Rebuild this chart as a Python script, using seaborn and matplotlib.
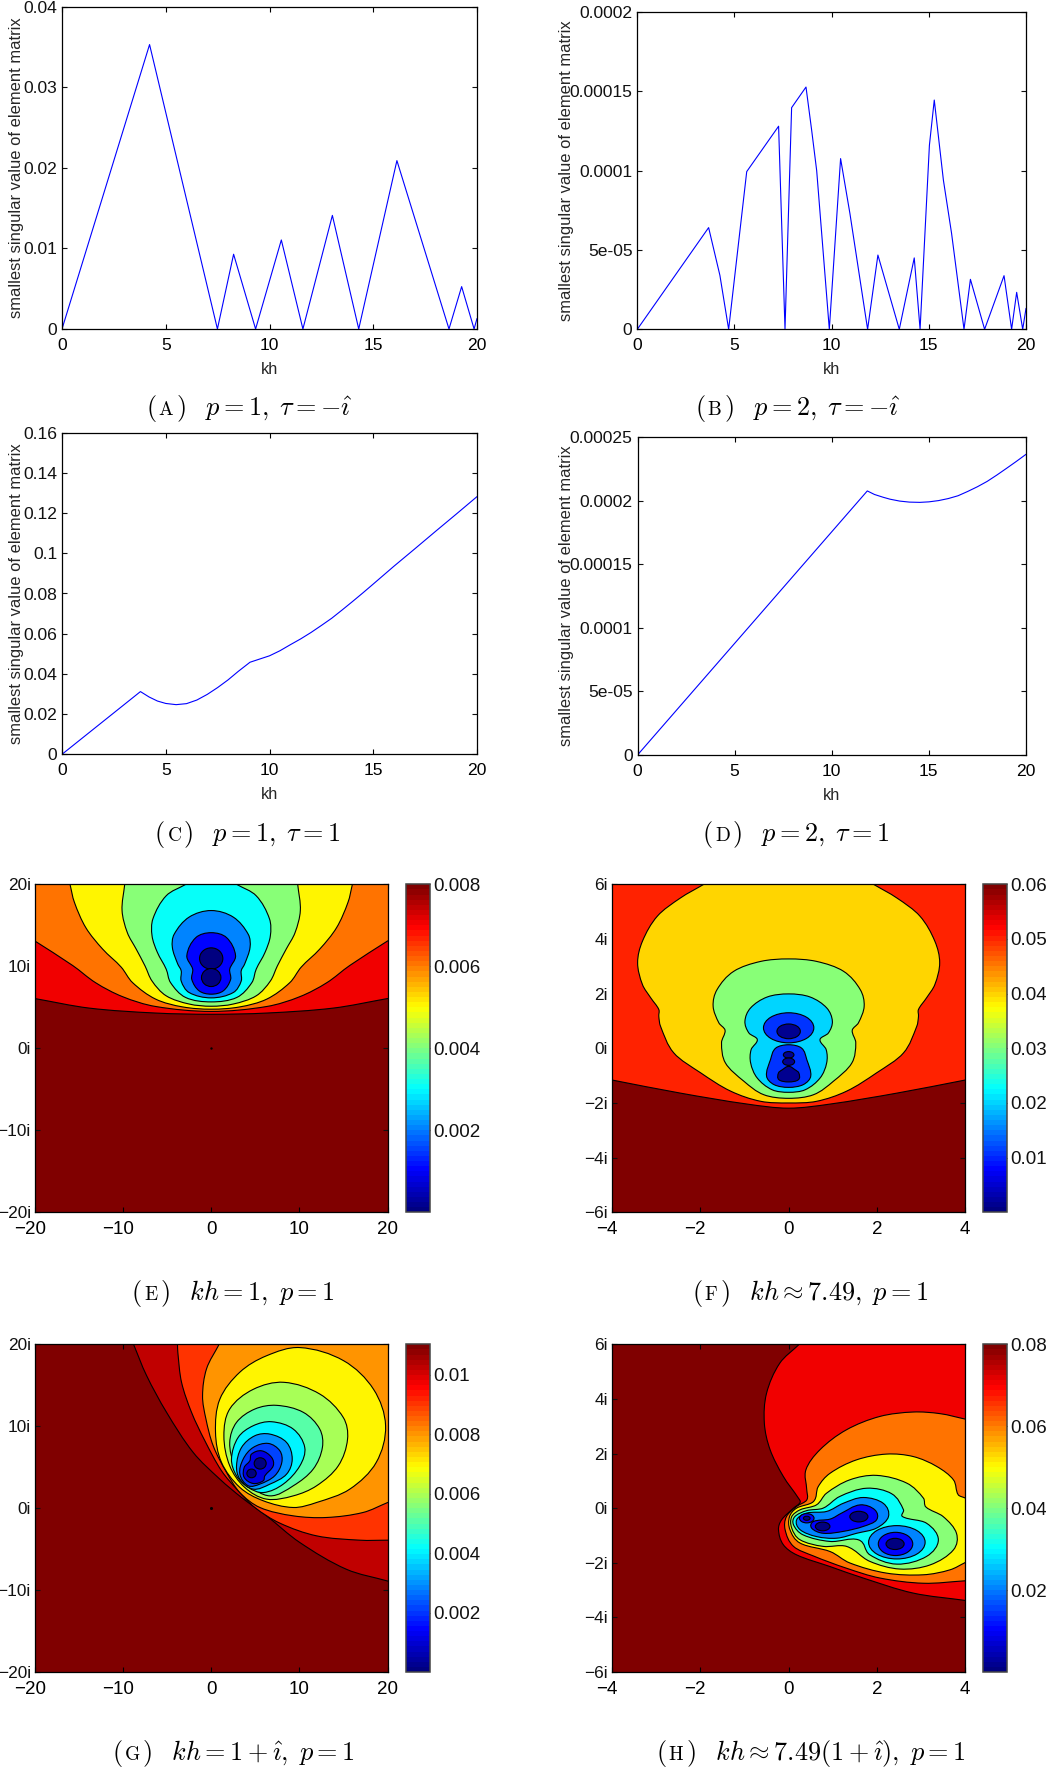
import numpy as np
import matplotlib
matplotlib.use("Agg")
import matplotlib.pyplot as plt
from matplotlib.path import Path
from matplotlib.patches import PathPatch, Ellipse
from matplotlib.colors import Normalize, LinearSegmentedColormap
from matplotlib.cm import ScalarMappable
from matplotlib.transforms import ScaledTranslation
import seaborn as sns

# ---------------- line panels ----------------
A_KH = [0, 4.22, 7.49, 8.27, 9.33, 10.57, 11.61, 13.03, 14.3, 16.14, 18.65, 19.26, 19.86, 20]
A_S = [0, .0353, 0, .00928, 0, .01105, 0, .0141, 0, .0209, 0, .00526, 0, .0013]
B_KH = [0, 3.67, 4.25, 4.7, 5.63, 7.27, 7.6, 7.94, 8.68, 8.97, 9.23, 9.88, 10.46, 10.94, 11.85, 12.38,
        13.48, 14.25, 14.55, 15.03, 15.28, 15.75, 16.17, 16.81, 17.14, 17.87, 18.87, 19.26, 19.52, 19.83, 20]
B_S = [0, 6.41e-5, 3.4e-5, 0, 9.94e-5, 1.28e-4, 0, 1.397e-4, 1.527e-4, 1.256e-4, 1.0e-4, 0, 1.076e-4, 7.3e-5, 0,
       4.68e-5, 0, 4.5e-5, 0, 1.16e-4, 1.445e-4, 9.4e-5, 6.05e-5, 0, 3.15e-5, 0, 3.38e-5, 0, 2.33e-5, 0, 1.32e-5]
C_KH = [0, 3.78, 4.2, 4.6, 5.0, 5.5, 6.0, 6.5, 7.0, 7.5, 8.0, 8.5, 9.06, 9.5, 10, 10.5, 11, 11.5, 12, 12.5, 13, 13.5, 14, 14.5, 14.92, 16, 17, 18, 19, 20]
C_S = [0, .0312, .0285, .0265, .0253, .0247, .0252, .027, .0298, .0332, .037, .0413, .0458, .0473, .0490, .0515,
       .0545, .0574, .0606, .0641, .0677, .0718, .076, .0803, .0840, .0936, .1022, .1109, .1195, .1282]
D_KH = [0, 11.83, 12.2, 12.65, 13, 13.5, 14, 14.54, 15, 15.5, 16, 16.5, 17, 17.5, 18, 18.5, 19, 19.5, 20]
D_S = [0, 2.078e-4, 2.05e-4, 2.028e-4, 2.013e-4, 1.998e-4, 1.99e-4, 1.988e-4, 1.992e-4, 2.002e-4, 2.018e-4, 2.04e-4,
       2.074e-4, 2.111e-4, 2.153e-4, 2.203e-4, 2.256e-4, 2.31e-4, 2.366e-4]

KH_TICKS = [0, 5, 10, 15, 20]
A_YT = [0, .01, .02, .03, .04]; A_YL = ["0", "0.01", "0.02", "0.03", "0.04"]
B_YT = [0, 5e-5, 1e-4, 1.5e-4, 2e-4]; B_YL = ["0", "5e-05", "0.0001", "0.00015", "0.0002"]
C_YT = [0, .02, .04, .06, .08, .1, .12, .14, .16]
C_YL = ["0", "0.02", "0.04", "0.06", "0.08", "0.1", "0.12", "0.14", "0.16"]
D_YT = [0, 5e-5, 1e-4, 1.5e-4, 2e-4, 2.5e-4]; D_YL = ["0", "5e-05", "0.0001", "0.00015", "0.0002", "0.00025"]
YLABEL = "smallest singular value of element matrix"

# ---------------- contour panel E (right halves, mirrored about Re = 0) ----------------
E_C1 = [(20, 6.07), (13.8, 4.9), (6.3, 4.3), (0, 4.15)]
E_C2 = [(20, 13.1), (15.7, 10.1), (13.1, 8.0), (10.05, 6.3), (6.3, 5.1), (0, 4.5)]
E_C3 = [(16, 20), (15.5, 17.8), (14.2, 14.7), (12.3, 12.1), (10.2, 9.9), (8.9, 8.0), (6.3, 6.0), (3.25, 5.05), (0, 4.77)]
E_C4 = [(9.8, 20), (10.1, 16.8), (9.5, 14.1), (8.5, 12.1), (7.5, 10.05), (6.7, 8.2), (5.1, 6.4), (2.5, 5.4), (0, 5.13)]
E_C5 = [(2.87, 20), (5.1, 18.6), (6.6, 15.8), (6.7, 13.7), (6.1, 11.7), (5.1, 9.65), (4.6, 8.0), (2.9, 6.2), (0, 5.66)]
E_C6 = [(0, 16.8), (2.5, 16), (4.2, 13.9), (4.4, 12.3), (3.8, 10.3), (3.4, 9.45), (3.4, 8.2), (2.5, 6.8), (0, 6.15)]
E_C7 = [(0, 14.1), (1.74, 13.5), (2.76, 11.3), (2.1, 9.65), (2.2, 8.4), (1.36, 7), (0, 6.6)]
E_BLOB_CX = [0, 0]; E_BLOB_CY = [10.95, 8.63]; E_BLOB_W = [2.64, 2.2]; E_BLOB_H = [2.6, 2.2]
E_VALUES = [.007, .006, .005, .004, .003, .002, .001]
E_BLOB_VALUE = 0.0

# ---------------- contour panel F ----------------
F_C1 = [(4, -1.16), (2.45, -1.64), (0.94, -2.04), (0, -2.19)]
F_C2 = [(1.92, 6), (2.45, 5.5), (2.97, 4.84), (3.31, 3.92), (3.42, 3.13), (3.31, 2.33), (3.12, 1.84), (2.94, 1.42),
        (2.94, 1.17), (2.9, .8), (2.6, -.17), (1.99, -.9), (1.31, -1.57), (.63, -1.94), (0, -2.0)]
F_C3 = [(0, 3.27), (.63, 3.18), (1.24, 2.82), (1.62, 2.15), (1.71, 1.54), (1.58, .93), (1.44, .66), (1.52, .2),
        (1.43, -.54), (1.01, -1.21), (.56, -1.7), (0, -1.83)]
F_C4 = [(0, 1.99), (.48, 1.88), (.86, 1.48), (.99, .99), (.9, .56), (.71, .32), (.85, -.05), (.86, -.54),
        (.71, -1.09), (.37, -1.52), (0, -1.61)]
F_C5 = [(0, .13), (.29, .01), (.41, -.41), (.5, -1.02), (.33, -1.33), (0, -1.43)]
F_C6 = [(0, -.66), (.14, -.78), (.23, -.9), (.22, -1.15), (0, -1.23)]
F_BLUE_CX = [0]; F_BLUE_CY = [.75]; F_BLUE_W = [1.14]; F_BLUE_H = [1.10]
F_DARK_CX = [0, 0, 0]; F_DARK_CY = [.62, -.24, -.49]; F_DARK_W = [.53, .24, .27]; F_DARK_H = [.54, .24, .27]
F_VALUES = [.0503, .0397, .03, .0203, .0105, .001]

# ---------------- contour panel G ----------------
G_C1 = [(-8.8, 20), (-7.33, 16.2), (-5.06, 11.7), (-2.04, 6.8), (.98, 3.54), (3.44, 1.3), (6.27, -.94), (10.05, -4.2), (15.3, -7.45), (20, -8.9)]
G_C2 = [(-3.82, 20), (-3.78, 19), (-3.36, 15.36), (-2.23, 11.7), (-.72, 8.23), (1.17, 4.56), (3.06, 2.12), (4.95, .08), (7.78, -1.83), (11.94, -3.38), (16.85, -3.91), (20, -3.91)]
G_C3 = [(.9, 20), (-.53, 17), (-.98, 13.7), (-.6, 10.9), (.23, 7.6), (1.74, 4.36), (3.25, 1.91), (5.52, .08), (9.3, -.94), (13.07, -1.14), (17.2, -.53), (20, .69)]
G_C4 = [(10.05, 19.6), (15, 18), (18.4, 14.5), (19.76, 10.06), (18.7, 5.58), (15.7, 2.32), (11.94, .69), (9.3, .08), (5.9, .9), (3.25, 2.53), (1.17, 5.58), (.49, 9.25), (.98, 13.3), (3.25, 16.6), (6.27, 18.6)]
G_C5 = [(8.24, 15.36), (12.3, 13.93), (14.96, 11.08), (15.45, 8.43), (14.4, 5.17), (11.94, 2.73), (9.3, 1.5), (6.27, 1.1), (3.8, 2.53), (2.1, 5.17), (1.44, 8.84), (2.1, 12.1), (4.76, 14.5)]
G_C6 = [(7.4, 12.55), (10.43, 11.7), (12.3, 9.65), (12.6, 7.41), (11.56, 4.77), (9.3, 2.73), (6.65, 1.5), (4.2, 2.93), (2.68, 5.17), (2.1, 8.02), (2.87, 10.47), (4.95, 12.1)]
G_C7 = [(6.84, 10.55), (9.3, 9.65), (10.6, 7.41), (10.05, 5.17), (8.16, 2.93), (5.9, 1.9), (4.2, 2.53), (2.87, 3.95), (2.3, 6), (3.06, 8.64), (4.76, 10.06)]
G_C8 = [(6.65, 9.04), (8.54, 8.02), (9.18, 6), (8.54, 4.15), (6.65, 2.93), (4.76, 2.32), (3.25, 3.54), (2.87, 5.17), (3.44, 7.41), (4.95, 8.84)]
G_C9 = [(6.46, 7.9), (7.78, 7), (8, 5.58), (7.2, 3.95), (5.5, 2.93), (4.2, 2.73), (3.25, 4.15), (3.63, 6), (4.76, 7.41)]
G_C10 = [(5.7, 7), (6.84, 6.2), (7.03, 5.17), (6.08, 3.95), (5.9, 3.34), (4.76, 3.01), (3.74, 3.75), (3.74, 4.97), (4.38, 5.78), (4.57, 6.6)]
G_BLOB_CX = [5.55, 4.57]; G_BLOB_CY = [5.46, 4.24]; G_BLOB_W = [1.36, 1.06]; G_BLOB_H = [1.38, 1.06]
G_VALUES = [.0102, .0091, .0081, .0070, .0060, .0051, .0041, .0031, .0021, .0011]
G_BLOB_VALUE = .0001

# ---------------- contour panel H ----------------
H_C1 = [(.24, 6), (-.2, 5.31), (-.5, 4.21), (-.55, 3.11), (-.42, 2.14), (-.12, 1.16), (.22, .37), (.26, .21), (.11, 0), (-.16, -.43), (-.23, -.79), (-.12, -1.34), (.18, -1.71), (.94, -2.14), (1.69, -2.56), (2.82, -3.11), (4, -3.38)]
H_C2 = [(4, 3.26), (3.43, 3.46), (2.82, 3.52), (2.07, 3.36), (1.31, 2.87), (.71, 2.14), (.39, 1.4), (.41, .67), (.41, .3), (.18, .06), (-.05, -.31), (-.08, -.79), (.11, -1.4), (.56, -1.75), (1.31, -2.2), (2.07, -2.56), (3.05, -2.75), (4, -2.66)]
H_C3 = [(4, .37), (3.84, .49), (3.73, 1.04), (3.35, 1.53), (2.82, 1.89), (2.22, 1.98), (1.54, 1.77), (.94, 1.28), (.67, .79), (.56, .24), (.18, 0), (.02, -.31), (.03, -.79), (.26, -1.28), (.94, -1.59), (1.39, -2.01), (2.22, -2.38), (3.05, -2.44), (3.65, -2.26), (4, -1.99)]
H_C4 = [(1.99, 1.2), (2.67, .92), (3.05, .37), (3.11, .04), (3.5, -.31), (3.8, -.92), (3.73, -1.53), (3.2, -2.08), (2.52, -2.23), (1.84, -1.95), (1.31, -1.4), (.78, -1.4), (.26, -1.16), (.07, -.73), (.07, -.31), (.26, -.06), (.63, .12), (.86, .55), (1.39, 1.04)]
H_C5 = [(1.77, .73), (2.33, .53), (2.6, -.06), (2.58, -.31), (3.12, -.55), (3.39, -1.16), (3.12, -1.77), (2.45, -2.05), (1.84, -1.71), (1.58, -1.16), (.94, -1.22), (.33, -.98), (.11, -.61), (.14, -.31), (.41, -.09), (.78, 0), (1.16, .43)]
H_C6 = [(1.69, .39), (2.14, .18), (2.26, -.31), (1.99, -.73), (1.54, -.92), (1.09, -1.1), (.63, -1.04), (.26, -.79), (.18, -.43), (.41, -.18), (.86, -.12), (1.24, .18)]
H_C7 = [(1.62, .12), (1.95, -.06), (1.99, -.43), (1.69, -.67), (1.24, -.85), (.78, -.92), (.52, -.73), (.56, -.49), (.94, -.4), (1.2, -.18)]
H_AZURE_CX = [2.45]; H_AZURE_CY = [-1.25]; H_AZURE_W = [1.28]; H_AZURE_H = [1.22]
H_BLUE_CX = [2.42, .41]; H_BLUE_CY = [-1.31, -.37]; H_BLUE_W = [.78, .33]; H_BLUE_H = [.85, .34]
H_DARK_CX = [1.59, .77, 2.41, .41]; H_DARK_CY = [-.31, -.67, -1.31, -.37]; H_DARK_W = [.41, .33, .41, .15]; H_DARK_H = [.39, .32, .41, .15]
H_VALUES = [.07, .06, .05, .04, .03, .02, .01]

# ---------------- axis ticks ----------------
EG_XT = [-20, -10, 0, 10, 20]; EG_XL = ["\u221220", "\u221210", "0", "10", "20"]
EG_YT = [-20, -10, 0, 10, 20]; EG_YL = ["\u221220i", "\u221210i", "0i", "10i", "20i"]
FH_XT = [-4, -2, 0, 2, 4]; FH_XL = ["\u22124", "\u22122", "0", "2", "4"]
FH_YT = [-6, -4, -2, 0, 2, 4, 6]; FH_YL = ["\u22126i", "\u22124i", "\u22122i", "0i", "2i", "4i", "6i"]
E_CT = [.002, .004, .006, .008]; E_CL = ["0.002", "0.004", "0.006", "0.008"]
F_CT = [.01, .02, .03, .04, .05, .06]; F_CL = ["0.01", "0.02", "0.03", "0.04", "0.05", "0.06"]
G_CT = [.002, .004, .006, .008, .01]; G_CL = ["0.002", "0.004", "0.006", "0.008", "0.01"]
H_CT = [.02, .04, .06, .08]; H_CL = ["0.02", "0.04", "0.06", "0.08"]
E_CMAX, F_CMAX, G_CMAX, H_CMAX = .008, .06, .01103, .08
CMIN = 0.0

# ---------------- style ----------------
sns.set_theme(style="ticks")
plt.rcParams["font.family"] = ["Liberation Sans", "DejaVu Sans"]
plt.rcParams["mathtext.fontset"] = "cm"
plt.rcParams["axes.edgecolor"] = "black"
plt.rcParams["axes.linewidth"] = 0.9
plt.rcParams["text.color"] = "#111111"
plt.rcParams["xtick.color"] = "black"
plt.rcParams["ytick.color"] = "#111111"

W, H = 1046, 1769
fig = plt.figure(figsize=(W / 100, H / 100), dpi=100, facecolor="white")
# the classic 64-step jet of the original figure
JET = LinearSegmentedColormap("jet64", {
    "red": [(0, 0, 0), (.375, 0, 0), (.625, 1, 1), (.875, 1, 1), (1, .5, .5)],
    "green": [(0, 0, 0), (.125, 0, 0), (.375, 1, 1), (.625, 1, 1), (.875, 0, 0), (1, 0, 0)],
    "blue": [(0, .5, .5), (.125, 1, 1), (.375, 1, 1), (.625, 0, 0), (1, 0, 0)],
}, N=64)


def make_axes(l, r, t, b):
    return fig.add_axes([l / W, 1 - b / H, (r - l) / W, (b - t) / H])


def mirror(half):
    left = [(-x, y) for x, y in half[::-1] if x != 0]
    return list(half) + left


def spline_path(pts, beyond=None):
    P = np.array(pts, float)
    n = len(P)
    closed = beyond is None
    T = np.zeros_like(P)
    for i in range(n):
        if closed:
            d = P[(i + 1) % n] - P[i - 1]
        else:
            d = P[min(i + 1, n - 1)] - P[max(i - 1, 0)]
        T[i] = d / (np.hypot(*d) + 1e-12)
    verts, codes = [P[0]], [Path.MOVETO]
    for i in range(n if closed else n - 1):
        j = (i + 1) % n
        L = np.hypot(*(P[j] - P[i])) / 3
        verts += [P[i] + T[i] * L, P[j] - T[j] * L, P[j]]
        codes += [Path.CURVE4] * 3
    if not closed:
        for q in beyond:
            verts.append(q)
            codes.append(Path.LINETO)
    verts.append(P[0])
    codes.append(Path.CLOSEPOLY)
    return Path(np.array(verts), codes)


def region(ax, pts, value, norm, beyond=None):
    ax.add_patch(PathPatch(spline_path(pts, beyond), facecolor=JET(norm(value)),
                           edgecolor="black", lw=0.8, zorder=2))


def blobs(ax, cx, cy, w, h, value, norm):
    for a, b, c, d in zip(cx, cy, w, h):
        ax.add_patch(Ellipse((a, b), c, d, facecolor=JET(norm(value)),
                             edgecolor="black", lw=0.8, zorder=3))


def line_panel(box, kh, s, yt, yl, ymax, lab_x):
    ax = make_axes(*box)
    sns.lineplot(x=kh, y=s, ax=ax, color=(0, 0, 1), lw=0.8, estimator=None, sort=False, errorbar=None)
    ax.set_xlim(0, 20)
    ax.set_ylim(0, ymax)
    ax.set_xticks(KH_TICKS)
    ax.set_xticklabels([str(k) for k in KH_TICKS])
    ax.set_yticks(yt)
    ax.set_yticklabels(yl)
    ax.tick_params(axis="both", direction="in", top=True, right=True, length=3.5, width=0.8, labelsize=12.6)
    ax.tick_params(axis="x", pad=6.5)
    ax.tick_params(axis="y", pad=3.5)
    for sp in ax.spines.values():
        sp.set_visible(True)
    ax.set_xlabel("kh", fontsize=11.8, va="center")
    ax.xaxis.set_label_coords(0.5, -40 / (box[3] - box[2]))
    ax.set_ylabel(YLABEL, fontsize=11.85, va="center")
    ax.yaxis.set_label_coords((lab_x - box[0]) / (box[1] - box[0]), 0.5)
    return ax


def contour_frame(box, cbox, xlim, ylim, xt, xl, yt, yl, vmax, ct, cl):
    ax = make_axes(*box)
    norm = Normalize(CMIN, vmax)
    ax.set_facecolor(JET(norm(vmax)))
    ax.set_xlim(*xlim)
    ax.set_ylim(*ylim)
    ax.set_xticks(xt)
    ax.set_xticklabels(xl)
    ax.set_yticks(yt)
    ax.set_yticklabels(yl)
    ax.tick_params(axis="both", direction="in", top=True, right=True, length=3.5, width=0.8, labelsize=13.5)
    ax.tick_params(axis="x", pad=6.5)
    ax.tick_params(axis="y", pad=2.8, labelsize=12.4)
    for sp in ax.spines.values():
        sp.set_visible(True)
        sp.set_zorder(6)
    for lab, val in zip(ax.get_xticklabels(), xt):
        if val < 0:
            lab.set_transform(lab.get_transform() + ScaledTranslation(-5 / 100, 0, fig.dpi_scale_trans))
    cax = make_axes(*cbox)
    cb = fig.colorbar(ScalarMappable(norm=norm, cmap=JET), cax=cax)
    cb.set_ticks(ct)
    cb.set_ticklabels(cl)
    cax.tick_params(axis="y", direction="in", left=True, right=True, length=3.5, width=0.8,
                    labelsize=13.5, pad=2.5, color="#333333")
    cb.outline.set_edgecolor("#444444")
    cb.outline.set_linewidth(1.1)
    return ax, norm


def caption(letter, math, xc, base, size=18.9):
    r = fig.canvas.get_renderer()
    parts = [("$($", size), (rf"$\mathrm{{{letter}}}$", size * 0.74), (math, size)]
    texts = [fig.text(0, 0, s, fontsize=z, color="black", va="baseline", ha="left") for s, z in parts]
    ws = [t.get_window_extent(r).width for t in texts]
    gaps = [1.5, 1.5]
    x = xc - (sum(ws) + sum(gaps)) / 2
    for t, w, g in zip(texts, ws, gaps + [0]):
        t.set_position((x / W, 1 - base / H))
        x += w + g


# ---------------- panels A-D ----------------
line_panel((62, 477, 6.7, 329), A_KH, A_S, A_YT, A_YL, .04, 17)
line_panel((637.3, 1026, 12, 329.3), B_KH, B_S, B_YT, B_YL, 2e-4, 566.5)
line_panel((62, 477, 432.7, 754.3), C_KH, C_S, C_YT, C_YL, .16, 17)
line_panel((637.5, 1026, 437.3, 755), D_KH, D_S, D_YT, D_YL, 2.5e-4, 566.5)

# ---------------- panel E ----------------
ax, nrm = contour_frame((34.7, 387.7, 884.3, 1212.3), (405.7, 429.7, 884.3, 1212.3),
                        (-20, 20), (-20, 20), EG_XT, EG_XL, EG_YT, EG_YL, E_CMAX, E_CT, E_CL)
open_e = [(E_C1, 6.07), (E_C2, 13.1), (E_C3, None), (E_C4, None), (E_C5, None)]
for (c, edge), v in zip(open_e, E_VALUES[:5]):
    x0 = c[0][0]
    if edge is None:
        region(ax, mirror(c), v, nrm, [(-x0, 30), (x0, 30)])
    else:
        region(ax, mirror(c), v, nrm, [(-30, edge), (-30, 30), (30, 30), (30, edge)])
region(ax, mirror(E_C6), E_VALUES[5], nrm)
region(ax, mirror(E_C7), E_VALUES[6], nrm)
blobs(ax, E_BLOB_CX, E_BLOB_CY, E_BLOB_W, E_BLOB_H, E_BLOB_VALUE, nrm)
ax.scatter([0], [0], s=3, color="black", zorder=5, linewidths=0)

# ---------------- panel F ----------------
ax, nrm = contour_frame((612, 965.3, 884.3, 1212.3), (983, 1007, 884.3, 1212.3),
                        (-4, 4), (-6, 6), FH_XT, FH_XL, FH_YT, FH_YL, F_CMAX, F_CT, F_CL)
region(ax, mirror(F_C1), F_VALUES[0], nrm, [(-6, -1.16), (-6, 9), (6, 9), (6, -1.16)])
region(ax, mirror(F_C2), F_VALUES[1], nrm, [(-1.92, 9), (1.92, 9)])
region(ax, mirror(F_C3), F_VALUES[2], nrm)
region(ax, mirror(F_C4), F_VALUES[3], nrm)
region(ax, mirror(F_C5), F_VALUES[4], nrm)
blobs(ax, F_BLUE_CX, F_BLUE_CY, F_BLUE_W, F_BLUE_H, F_VALUES[4], nrm)
region(ax, mirror(F_C6), F_VALUES[5], nrm)
blobs(ax, F_DARK_CX, F_DARK_CY, F_DARK_W, F_DARK_H, F_VALUES[5], nrm)

# ---------------- panel G ----------------
ax, nrm = contour_frame((34.7, 387.7, 1344.3, 1672), (405.7, 429.7, 1344.3, 1672),
                        (-20, 20), (-20, 20), EG_XT, EG_XL, EG_YT, EG_YL, G_CMAX, G_CT, G_CL)
region(ax, G_C1, G_VALUES[0], nrm, [(30, -8.9), (30, 30), (-8.8, 30)])
region(ax, G_C2, G_VALUES[1], nrm, [(30, -3.91), (30, 30), (-3.82, 30)])
region(ax, G_C3, G_VALUES[2], nrm, [(30, .69), (30, 30), (.9, 30)])
for c, v in zip([G_C4, G_C5, G_C6, G_C7, G_C8, G_C9, G_C10], G_VALUES[3:]):
    region(ax, c, v, nrm)
blobs(ax, G_BLOB_CX, G_BLOB_CY, G_BLOB_W, G_BLOB_H, G_BLOB_VALUE, nrm)
ax.scatter([0], [0], s=5, color="black", zorder=5, linewidths=0)

# ---------------- panel H ----------------
ax, nrm = contour_frame((612, 965.3, 1344.3, 1672), (983, 1007, 1344.3, 1672),
                        (-4, 4), (-6, 6), FH_XT, FH_XL, FH_YT, FH_YL, H_CMAX, H_CT, H_CL)
region(ax, H_C1, H_VALUES[0], nrm, [(6, -3.38), (6, 9), (.24, 9)])
region(ax, H_C2, H_VALUES[1], nrm, [(6, -2.66), (6, 3.26)])
region(ax, H_C3, H_VALUES[2], nrm, [(6, -1.99), (6, .37)])
region(ax, H_C4, H_VALUES[3], nrm)
region(ax, H_C5, H_VALUES[4], nrm)
region(ax, H_C6, H_VALUES[5], nrm)
blobs(ax, H_AZURE_CX, H_AZURE_CY, H_AZURE_W, H_AZURE_H, H_VALUES[5], nrm)
region(ax, H_C7, H_VALUES[6], nrm)
blobs(ax, H_BLUE_CX, H_BLUE_CY, H_BLUE_W, H_BLUE_H, H_VALUES[6], nrm)
blobs(ax, H_DARK_CX, H_DARK_CY, H_DARK_W, H_DARK_H, 0.0005, nrm)

# ---------------- captions ----------------
caption("A", r"$)\;\;\;p=1,\;\tau=-\hat{\imath}$", 249, 415)
caption("B", r"$)\;\;\;p=2,\;\tau=-\hat{\imath}$", 797.5, 415)
caption("C", r"$)\;\;\;p=1,\;\tau=1$", 247.5, 841)
caption("D", r"$)\;\;\;p=2,\;\tau=1$", 796, 841)
caption("E", r"$)\;\;\;kh=1,\;p=1$", 233, 1300)
caption("F", r"$)\;\;\;kh\approx 7.49,\;p=1$", 810, 1300)
caption("G", r"$)\;\;\;kh=1+\hat{\imath},\;p=1$", 233, 1760)
caption("H", r"$)\;\;\;kh\approx 7.49(1+\hat{\imath}),\;p=1$", 811, 1760)

fig.savefig("out.png", dpi=100, facecolor="white")
